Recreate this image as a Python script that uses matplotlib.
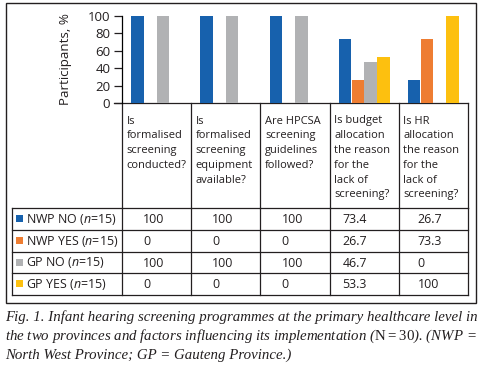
import matplotlib
matplotlib.use("Agg")
import matplotlib.pyplot as plt
from matplotlib.patches import Rectangle
import numpy as np

plt.rcParams['font.family'] = ['Open Sans', 'DejaVu Sans']
plt.rcParams['mathtext.fontset'] = 'custom'
plt.rcParams['mathtext.rm'] = 'Liberation Serif'
plt.rcParams['mathtext.it'] = 'Open Sans:italic'

# data
questions = ["Is\nformalised\nscreening\nconducted?",
             "Is\nformalised\nscreening\nequipment\navailable?",
             "Are HPCSA\nscreening\nguidelines\nfollowed?",
             "Is budget\nallocation\nthe reason\nfor the\nlack of\nscreening?",
             "Is HR\nallocation\nthe reason\nfor the\nlack of\nscreening?"]
groups = ["NWP NO", "NWP YES", "GP NO", "GP YES"]
n_per_group = [15, 15, 15, 15]
nwp_no = [100, 100, 100, 73.4, 26.7]
nwp_yes = [0, 0, 0, 26.7, 73.3]
gp_no = [100, 100, 100, 46.7, 0]
gp_yes = [0, 0, 0, 53.3, 100]
values = [nwp_no, nwp_yes, gp_no, gp_yes]
colors = ['#1761ad', '#ee7d32', '#b1b2b4', '#fdc00f']
yticks = [0, 20, 40, 60, 80, 100]
caption = ["Fig. 1. Infant hearing screening programmes at the primary healthcare level in",
           "the two provinces and factors influencing its implementation ($\\mathrm{N{=}30}$). (NWP =",
           "North West Province; GP = Gauteng Province.)"]

W, H = 483, 365
txt = '#231f20'
fig = plt.figure(figsize=(W / 100, H / 100), dpi=100)

# pixel overlay for table / frame
ov = fig.add_axes([0, 0, 1, 1])
ov.set_xlim(0, W)
ov.set_ylim(H, 0)
ov.axis('off')

# bar chart
x0, x1, yb, yt = 122, 468, 103, 16
ax = fig.add_axes([x0 / W, (H - yb) / H, (x1 - x0) / W, (yb - yt) / H])
x = np.arange(len(questions))
bw = 0.185
for i, vals in enumerate(values):
    ax.bar(x + (i - 1.5) * bw, vals, bw * 0.96, color=colors[i], zorder=3)
ax.set_xlim(-0.5, len(questions) - 0.5)
ax.set_ylim(0, 100)
ax.set_yticks(yticks)
ax.tick_params(axis='y', length=6, width=0.9, color=txt, labelsize=9.5, labelcolor=txt, pad=2.5)
ax.set_xticks([])
for s in ['top', 'right']:
    ax.spines[s].set_visible(False)
ax.spines['left'].set_linewidth(0.9)
ax.spines['bottom'].set_visible(False)
ax.patch.set_alpha(0)
ax.set_ylabel("Participants, %", fontsize=9.6, color=txt, labelpad=11)

lw = 0.9
col_edges = np.linspace(x0, x1, len(questions) + 1)
row_edges = [208, 229.8, 251.5, 273, 294.5]

# header
ov.plot([114, x1], [yb, yb], color=txt, lw=lw)
for cx in col_edges:
    ov.plot([cx, cx], [yb, row_edges[0]], color=txt, lw=lw)
for j, q in enumerate(questions):
    ov.text(col_edges[j] + 4.5, 115.5, q, ha='left', va='top', fontsize=8.0,
            color=txt, linespacing=1.47)

# data rows
tl = 12
for ry in row_edges:
    ov.plot([tl, x1], [ry, ry], color=txt, lw=lw)
for cx in [tl] + list(col_edges):
    ov.plot([cx, cx], [row_edges[0], row_edges[-1]], color=txt, lw=lw)
val_off = [21, 21, 21, 13, 19]
for i, g in enumerate(groups):
    yc = (row_edges[i] + row_edges[i + 1]) / 2
    ov.add_patch(Rectangle((16, yc - 3.5), 7, 7, color=colors[i], lw=0))
    ov.text(26.5, yc + 0.5, f"{g} ($n$={n_per_group[i]})", ha='left', va='center',
            fontsize=8.9, color=txt)
    for j, v in enumerate(values[i]):
        ov.text(col_edges[j] + val_off[j], yc + 1, f"{v:g}", ha='left', va='center',
                fontsize=8.9, color=txt)

# outer frame
ov.add_patch(Rectangle((6, 3), 469.5, 300, fill=False, ec=txt, lw=1.0))

# caption
for k, line in enumerate(caption):
    ov.text(5, 317 + k * 19.2, line, ha='left', va='center', fontsize=10.7,
            family='Liberation Serif', style='italic', color=txt)

fig.savefig("out.png", dpi=100)
